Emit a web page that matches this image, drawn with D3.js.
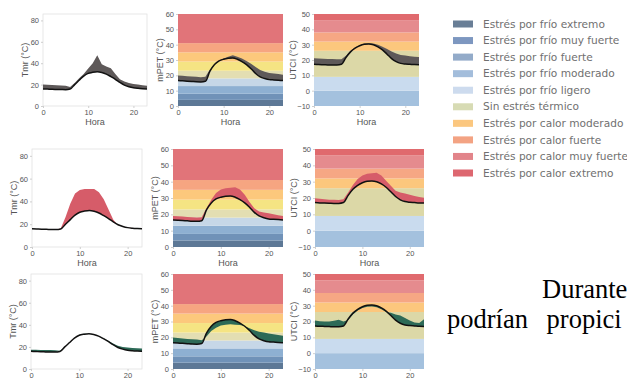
<!DOCTYPE html>
<html>
<head>
<meta charset="utf-8">
<script src="https://cdn.jsdelivr.net/npm/d3@7"></script>
<style>
  body { margin: 0; background: #fff; }
  svg { display: block; }
</style>
</head>
<body>
<div id="chart"></div>
<script>
// hours on the x axis
const hours = d3.range(0, 24);

// reference (black line) per variable
const tmrBase  = [16, 15.8, 15.6, 15.5, 15.4, 15.3, 15.8, 20, 24, 28, 30.5, 31.5, 32, 31.3, 29.8, 27.5, 25, 22, 19.5, 18, 17, 16.5, 16.2, 16];
const mpetBase = [16.6, 16.4, 16.2, 16, 15.8, 15.7, 16.1, 22.7, 27, 29.4, 30.5, 31.1, 31.3, 30.5, 29, 27, 24.3, 21.2, 19, 17.9, 17.2, 17, 16.8, 16.6];
const utciBase = [17.2, 17, 16.9, 16.8, 16.7, 16.7, 17.2, 21.6, 25.3, 27.7, 29.3, 30.2, 30.4, 30, 28.6, 26.6, 23.8, 20.9, 18.9, 17.8, 17.4, 17.2, 17, 16.9];

// scenario series, one per row
const tmrGray  = [20, 19.8, 19.6, 19.4, 19.2, 19, 17.8, 21.5, 26, 30, 35, 40, 47.5, 39, 37, 35.4, 30, 25, 22.8, 21.5, 20.6, 20, 19.4, 19];
const tmrRed   = [16, 15.8, 15.6, 15.5, 15.4, 15.3, 16.3, 26, 38, 47, 50, 51, 51, 51, 48, 42, 33, 24, 19, 18, 17.2, 16.6, 16.3, 16.1];
const tmrGreen = [17.5, 17.4, 17.3, 17.2, 17.1, 17, 16.5, 20, 24, 28, 31, 32, 32, 31, 29.8, 27.8, 25.5, 23, 21, 20, 19.5, 19, 18.8, 18.5];

const mpetGray  = [19.9, 19.7, 19.4, 19.2, 19, 18.8, 19, 23.8, 27, 29.6, 31, 32.2, 33.1, 32.2, 31, 29.4, 27.6, 25.4, 23.4, 22.3, 21.6, 21.2, 20.8, 20.3];
const mpetRed   = [19, 18.8, 18.6, 18.4, 18.2, 18, 18.2, 23.8, 29, 33, 35.2, 36, 36.2, 36.6, 35.2, 32, 27.5, 23.8, 21.7, 21.1, 20.7, 20, 19.5, 19];
const mpetGreen = [19.9, 19.6, 19.3, 19, 18.8, 18.6, 18.2, 20.5, 24, 26, 27.5, 28, 28.2, 28, 27.8, 27, 25.7, 24.5, 23.5, 23, 22.5, 22, 21.5, 21];

const utciGray  = [21.1, 21, 20.8, 20.7, 20.6, 20.5, 20.5, 22.7, 26, 28.2, 29.7, 30.8, 31, 30.8, 30, 28.6, 27.1, 25.5, 24.2, 23.3, 22.9, 22.5, 22.2, 22];
const utciRed   = [19.8, 19.5, 19.2, 19, 18.9, 18.75, 19.2, 23.3, 27.9, 31.7, 33.75, 34.8, 35.2, 35.4, 33.75, 30.6, 27.5, 24.4, 23.3, 22.7, 22, 21.25, 20.6, 20.2];
const utciGreen = [20.7, 20.2, 20, 20, 20.4, 21.1, 20, 21, 24.5, 27, 28.5, 29.3, 29.5, 29, 27.8, 26, 25.5, 24.4, 23.8, 22.2, 20.7, 19.3, 19, 21.5];

// thermal stress thresholds (band edges)
const mpetEdges = [-100, 4, 8, 13, 18, 23, 29, 35, 41, 100];
const mpetColors = ["#5d7896", "#7092b8", "#8eb0d2", "#c6d7e7", "#e3deb2", "#f5e483", "#fcc87c", "#f6a581", "#e17479"];
const utciEdges = [-100, 0, 9, 26, 32, 38, 46, 100];
const utciColors = ["#a4c1de", "#c9dbee", "#dcd8a7", "#fcc77d", "#f6a784", "#e58b8e", "#e06a6e"];

// legend
const legendLabels = [
  "Estrés por frío extremo", "Estrés por frío muy fuerte", "Estrés por frío fuerte",
  "Estrés por frío moderado", "Estrés por frío ligero", "Sin estrés térmico",
  "Estrés por calor moderado", "Estrés por calor fuerte", "Estrés por calor  muy fuerte",
  "Estrés por calor extremo"
];
const legendColors = ["#697e96", "#7d97c0", "#93abc9", "#a3bddb", "#cddbee", "#d7dbb4", "#fbc77f", "#f3a383", "#e2848a", "#dd6770"];

const tmrTicks = [0, 20, 40, 60, 80];
const mpetTicks = [0, 10, 20, 30, 40, 50, 60];
const utciTicks = [-10, 0, 10, 20, 30, 40, 50];
const hourTicks = [0, 10, 20];

const W = 627, H = 381;
const svg = d3.select('#chart').append('svg').attr('width', W).attr('height', H);

const font = 'Liberation Sans, Arial, sans-serif';
const grey = '#555';

// panel boxes (pixel layout of the composite figure)
const rows = [
  { y0: 14, y1: 106, boxes: [[43, 147], [178, 283], [314, 419]], fill: '#5e5959', series: [tmrGray, mpetGray, utciGray], hora: true },
  { y0: 149, y1: 247, boxes: [[32, 142], [173, 283], [315, 424]], fill: '#d65c69', series: [tmrRed, mpetRed, utciRed], hora: true },
  { y0: 274, y1: 369, boxes: [[31, 142], [173, 283], [315, 424]], fill: '#2d6a57', series: [tmrGreen, mpetGreen, utciGreen], hora: false }
];

const vars = [
  { label: 'Tmr (°C)', domain: [0, 86], ticks: tmrTicks, base: tmrBase, labelOff: 18 },
  { label: 'mPET (°C)', domain: [0, 60], ticks: mpetTicks, base: mpetBase, edges: mpetEdges, colors: mpetColors, labelOff: 18 },
  { label: 'UTCI (°C)', domain: [-10, 50], ticks: utciTicks, base: utciBase, edges: utciEdges, colors: utciColors, labelOff: 21 }
];

const fmt = d => (d < 0 ? '\u2212' + Math.abs(d) : String(d));

rows.forEach(row => {
  row.boxes.forEach((box, vi) => {
    const v = vars[vi];
    const x = d3.scaleLinear().domain([0, 23]).range(box);
    const y = d3.scaleLinear().domain(v.domain).range([row.y1, row.y0]);
    const g = svg.append('g');
    const clipId = `clip-${row.y0}-${vi}`;
    g.append('clipPath').attr('id', clipId).append('rect')
      .attr('x', box[0]).attr('y', row.y0)
      .attr('width', box[1] - box[0]).attr('height', row.y1 - row.y0);

    if (v.edges) {
      const bands = v.colors.map((c, i) => ({
        lo: Math.max(v.edges[i], v.domain[0]),
        hi: Math.min(v.edges[i + 1], v.domain[1]),
        c
      })).filter(b => b.hi > b.lo);
      g.selectAll('.band').data(bands).enter().append('rect')
        .attr('x', box[0]).attr('width', box[1] - box[0])
        .attr('y', b => y(b.hi)).attr('height', b => y(b.lo) - y(b.hi))
        .attr('fill', b => b.c);
    } else {
      g.append('rect')
        .attr('x', box[0]).attr('y', row.y0)
        .attr('width', box[1] - box[0]).attr('height', row.y1 - row.y0)
        .attr('fill', '#fff').attr('stroke', '#e2e2e2').attr('stroke-width', 0.8);
    }

    const scen = row.series[vi];
    const area = d3.area()
      .x((d, i) => x(hours[i]))
      .y0((d, i) => y(v.base[i]))
      .y1(d => y(d));
    g.append('path').datum(scen)
      .attr('clip-path', `url(#${clipId})`)
      .attr('d', area).attr('fill', row.fill);

    const line = d3.line().x((d, i) => x(hours[i])).y(d => y(d)).curve(d3.curveMonotoneX);
    g.append('path').datum(v.base)
      .attr('clip-path', `url(#${clipId})`)
      .attr('d', line).attr('fill', 'none').attr('stroke', '#111').attr('stroke-width', 1.5);

    // axes
    const ya = g.append('g').attr('transform', `translate(${box[0]},0)`)
      .call(d3.axisLeft(y).tickValues(v.ticks).tickFormat(fmt).tickSize(2).tickPadding(2));
    const xa = g.append('g').attr('transform', `translate(0,${row.y1})`)
      .call(d3.axisBottom(x).tickValues(hourTicks).tickSize(2).tickPadding(1.5));
    [ya, xa].forEach(a => {
      a.select('.domain').remove();
      a.selectAll('line').attr('stroke', '#cfcfcf');
      a.selectAll('text').attr('fill', grey).style('font-family', font).style('font-size', '7.5px');
    });

    g.append('text')
      .attr('transform', `translate(${box[0] - v.labelOff},${(row.y0 + row.y1) / 2}) rotate(-90)`)
      .attr('text-anchor', 'middle').attr('dy', '0.35em')
      .attr('fill', grey).style('font-family', font).style('font-size', '9px')
      .text(v.label);

    if (row.hora) {
      g.append('text')
        .attr('x', (box[0] + box[1]) / 2).attr('y', row.y1 + 16).attr('dy', '0.35em')
        .attr('text-anchor', 'middle')
        .attr('fill', grey).style('font-family', font).style('font-size', '9px')
        .text('Hora');
    }
  });
});

// legend
const legend = svg.append('g');
const ly = d3.scalePoint().domain(legendLabels).range([24, 173]);
legendLabels.forEach((lab, i) => {
  legend.append('rect')
    .attr('x', 453).attr('y', ly(lab) - 3.5).attr('width', 20).attr('height', 7)
    .attr('fill', legendColors[i]);
  legend.append('text')
    .attr('x', 483).attr('y', ly(lab)).attr('dy', '0.35em')
    .attr('fill', '#707070').attr('font-family', 'DejaVu Sans, sans-serif').attr('font-size', '10.6px')
    .text(lab);
});

// surrounding document text (cut at the page edge in the source)
const body = svg.append('g').attr('font-family', 'Liberation Serif, Times New Roman, serif').attr('font-size', '26.5px').attr('fill', '#000');
body.append('text').attr('x', 542).attr('y', 298).text('Durante');
body.append('text').attr('x', 447).attr('y', 328).attr('word-spacing', '12px').text('podrían propici');
</script>
</body>
</html>
